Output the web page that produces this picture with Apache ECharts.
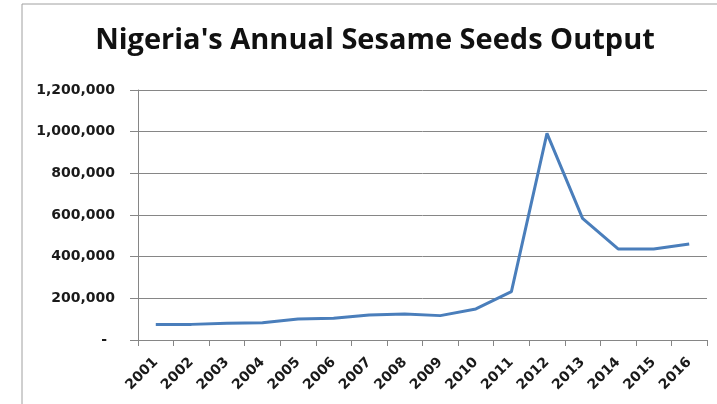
<!DOCTYPE html>
<html><head><meta charset="utf-8">
<script src="https://cdn.jsdelivr.net/npm/echarts@6/dist/echarts.min.js"></script>
<style>html,body{margin:0;padding:0;background:#fff}#c{width:717px;height:404px}</style>
</head><body><div id="c"></div>
<script>
const titleText = "Nigeria's Annual Sesame Seeds Output";
const years = ['2001','2002','2003','2004','2005','2006','2007','2008','2009','2010','2011','2012','2013','2014','2015','2016'];
const output = [75000,75000,80000,83000,101000,104000,120000,125000,117000,149000,232000,992000,584000,437000,437000,461000];
const yTicks = [0,200000,400000,600000,800000,1000000,1200000];

const chart = echarts.init(document.getElementById('c'));
chart.setOption({
  animation:false,
  title:{text:titleText,left:370,textAlign:'center',top:21,
    textStyle:{fontFamily:'Open Sans',fontWeight:'bold',fontSize:29,color:'#111'}},
  graphic:[{type:'rect',shape:{x:22,y:4,width:720,height:420},style:{fill:'none',stroke:'#a0a0a0',lineWidth:1},silent:true}],
  grid:{left:138,right:10,top:90,bottom:64,containLabel:false},
  xAxis:{type:'category',data:years,boundaryGap:true,
    axisLine:{lineStyle:{color:'#868686',width:1}},
    axisTick:{show:true,alignWithLabel:false,length:6,lineStyle:{color:'#868686'}},
    axisLabel:{rotate:45,interval:0,margin:20,fontFamily:'DejaVu Sans',fontWeight:'bold',fontSize:14,color:'#1a1a1a'}},
  yAxis:{type:'value',min:yTicks[0],max:yTicks[yTicks.length-1],interval:yTicks[1]-yTicks[0],
    axisLine:{show:true,lineStyle:{color:'#868686'}},
    axisTick:{show:true,length:8,lineStyle:{color:'#868686'}},
    splitLine:{lineStyle:{color:'#868686',width:1}},
    axisLabel:{margin:23,fontFamily:'DejaVu Sans',fontWeight:'bold',fontSize:14,color:'#1a1a1a',
      formatter:v=>v===0?'{d|-}':v.toLocaleString('en-US'),
      rich:{d:{fontFamily:'DejaVu Sans',fontWeight:'bold',fontSize:14,color:'#1a1a1a',padding:[0,8,0,0]}}}},
  series:[{type:'line',data:output,symbol:'none',lineStyle:{color:'#4a7ebb',width:3}}]
});
</script></body></html>
